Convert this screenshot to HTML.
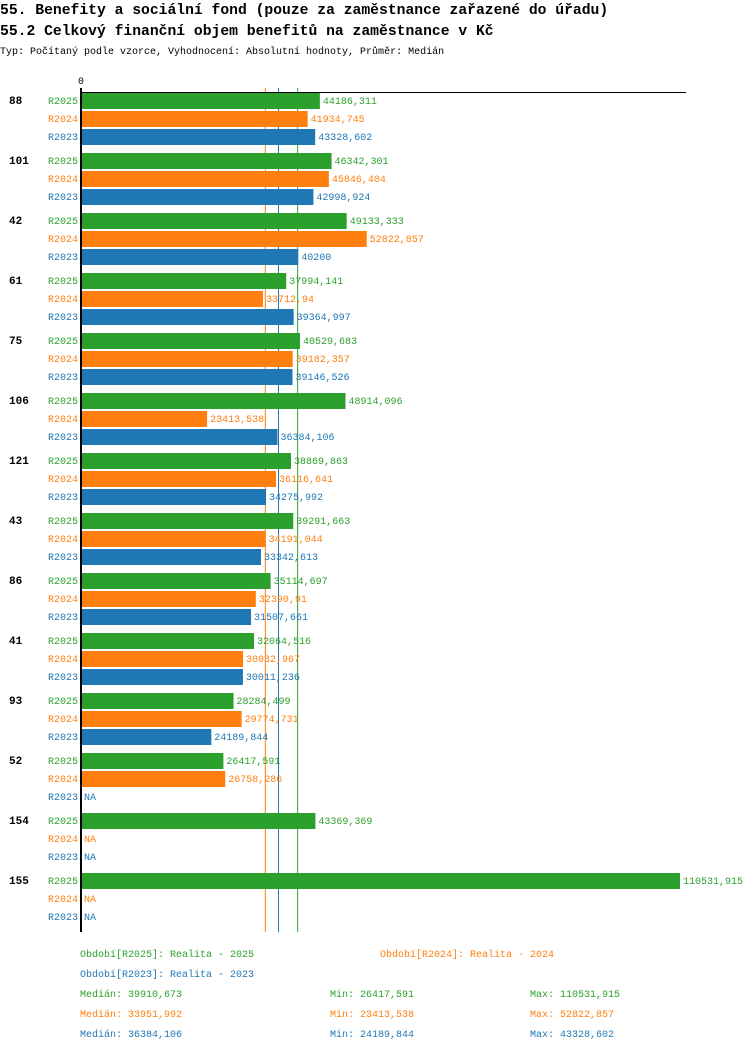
<!DOCTYPE html>
<html><head><meta charset="utf-8"><style>
body{margin:0;background:#fff;width:750px;height:1052px;overflow:hidden}
svg{display:block;font-family:"Liberation Mono",monospace}
</style></head><body>
<svg id="c" width="750" height="1052">
<text x="0" y="14" font-size="14.7" font-weight="bold">55. Benefity a sociální fond (pouze za zaměstnance zařazené do úřadu)</text>
<text x="0" y="35" font-size="14.7" font-weight="bold">55.2 Celkový finanční objem benefitů na zaměstnance v Kč</text>
<text x="0" y="54" font-size="10">Typ: Počítaný podle vzorce, Vyhodnocení: Absolutní hodnoty, Průměr: Medián</text>
</svg>
<script>
const categories=["88","101","42","61","75","106","121","43","86","41","93","52","154","155"];
const seriesNames=["R2025","R2024","R2023"];
const r2025=[44186.311,46342.301,49133.333,37994.141,40529.683,48914.096,38869.863,39291.663,35114.697,32064.516,28284.499,26417.591,43369.369,110531.915];
const r2024=[41934.745,45846.404,52822.857,33712.94,39182.357,23413.538,36116.641,34191.044,32390.91,30032.967,29774.731,26758.286,null,null];
const r2023=[43328.602,42998.924,40200,39364.997,39146.526,36384.106,34275.992,33342.613,31507.661,30011.236,24189.844,null,null,null];
const medians=[39910.673,33951.992,36384.106];
const mins=["26417,591","23413,538","24189,844"];
const maxs=["110531,915","52822,857","43328,602"];
const medianLabels=["39910,673","33951,992","36384,106"];
const legendText=["Období[R2025]: Realita - 2025","Období[R2024]: Realita - 2024","Období[R2023]: Realita - 2023"];
const colors=["#2ca02c","#ff7f0e","#1f77b4"];
const series=[r2025,r2024,r2023];
const svg=document.getElementById('c');
const NS="http://www.w3.org/2000/svg";
const X0=81,MAXV=110531.915,W=600;
const x=v=>X0+v/MAXV*W;
const yRow=(g,s)=>93+g*60+s*18;
function mk(t,a,txt){const e=document.createElementNS(NS,t);for(const k in a)e.setAttribute(k,a[k]);if(txt!=null)e.textContent=txt;svg.appendChild(e);return e;}
const fmt=v=>String(+v.toFixed(3)).replace('.',',');
let e=mk('text',{x:78,y:84,'font-size':10},'0');


medians.forEach((m,s)=>{
  let l=mk('line',{x1:x(m),x2:x(m),y1:88,y2:932,stroke:colors[s],'stroke-width':1});
  
  
});
categories.forEach((c,g)=>{
  let t=mk('text',{x:9,y:yRow(g,0)+11,'font-size':11,'font-weight':'bold'},c);
  
  
  series.forEach((arr,s)=>{
    const y=yRow(g,s),v=arr[g];
    let l=mk('text',{x:78,y:y+11,'font-size':10,fill:colors[s],'text-anchor':'end'},seriesNames[s]);
    
    
    if(v!=null){
      let r=mk('rect',{x:X0,y:y,width:x(v)-X0-1,height:16,fill:colors[s]});
      
      
      let vl=mk('text',{x:x(v)+2,y:y+11,'font-size':10,fill:colors[s]},fmt(v));
      
      
    }else{
      let vl=mk('text',{x:84,y:y+11,'font-size':10,fill:colors[s]},'NA');
      
      
    }
  });
});
let ax=mk('line',{x1:81,x2:81,y1:88,y2:932,stroke:'#000','stroke-width':2});


let tx=mk('line',{x1:80,x2:686,y1:92.5,y2:92.5,stroke:'#000','stroke-width':1});


const lp=[[80,957],[380,957],[80,977]];
legendText.forEach((t,s)=>{
  let l=mk('text',{x:lp[s][0],y:lp[s][1],'font-size':10,fill:colors[s]},t);
  
  
});
[0,1,2].forEach(s=>{
  const y=997+s*20;
  let a=mk('text',{x:80,y:y,'font-size':10,fill:colors[s]},'Medián: '+medianLabels[s]);
  
  
  let b=mk('text',{x:330,y:y,'font-size':10,fill:colors[s]},'Min: '+mins[s]);
  
  
  let c=mk('text',{x:530,y:y,'font-size':10,fill:colors[s]},'Max: '+maxs[s]);
  
  
});
</script>
</body></html>
